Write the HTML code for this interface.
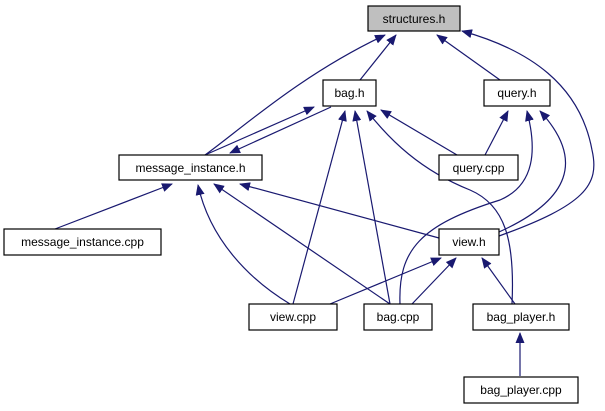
<!DOCTYPE html>
<html><head><meta charset="utf-8"><style>
html,body{margin:0;padding:0;background:#fff;width:605px;height:411px;overflow:hidden}
svg text{font-family:"Liberation Sans",sans-serif;font-size:12px;fill:#000}
</style></head><body>
<svg width="605" height="411" xmlns="http://www.w3.org/2000/svg">
<defs><marker id="a" markerWidth="11" markerHeight="9" refX="10" refY="4.5" orient="auto" markerUnits="userSpaceOnUse"><path d="M0,0 L11,4.5 L0,9 Z" fill="#191970"/></marker></defs>
<g fill="none" stroke="#191970" stroke-width="1.2" marker-end="url(#a)">
<path d="M360,80 L396,35"/>
<path d="M205,155 C240,130 300,75 385,35"/>
<path d="M500,80 L437,35"/>
<path d="M499,236 C585,205 600,185 592,150 C580,85 530,50 462,31"/>
<path d="M205,155 L314,107"/>
<path d="M331,107 L230,153"/>
<path d="M293,304 L345,111"/>
<path d="M390,304 L355,111"/>
<path d="M512,304 C515,240 505,205 470,190 C420,170 390,140 367,111"/>
<path d="M457,155 L381,110"/>
<path d="M485,155 L508,111"/>
<path d="M400,304 C398,250 420,225 500,200 C535,185 537,150 527,111"/>
<path d="M499,232 C570,200 585,160 540,111"/>
<path d="M55,229 L172,184"/>
<path d="M290,304 C250,280 210,240 198,185"/>
<path d="M390,304 L214,184"/>
<path d="M439,238 L240,184"/>
<path d="M330,304 L441,258"/>
<path d="M412,304 L456,258"/>
<path d="M515,304 L482,258"/>
<path d="M520,376 L520,333"/>
</g>
<g stroke="#000" stroke-width="1.2">
<rect x="368" y="6" width="92" height="25" fill="#bfbfbf"/>
<rect x="323" y="80" width="53" height="26" fill="#fff"/>
<rect x="484" y="80" width="66" height="26" fill="#fff"/>
<rect x="119" y="155" width="143" height="25" fill="#fff"/>
<rect x="439" y="155" width="79" height="25" fill="#fff"/>
<rect x="4" y="229" width="157" height="26" fill="#fff"/>
<rect x="439" y="229" width="60" height="26" fill="#fff"/>
<rect x="249" y="304" width="88" height="26" fill="#fff"/>
<rect x="364" y="304" width="68" height="26" fill="#fff"/>
<rect x="473" y="304" width="96" height="26" fill="#fff"/>
<rect x="464" y="377" width="114" height="26" fill="#fff"/>
</g>
<g text-anchor="middle">
<text x="414" y="23">structures.h</text>
<text x="349.5" y="97">bag.h</text>
<text x="517" y="97">query.h</text>
<text x="190.5" y="172">message_instance.h</text>
<text x="478.5" y="172">query.cpp</text>
<text x="82.5" y="246">message_instance.cpp</text>
<text x="469" y="246">view.h</text>
<text x="293" y="321">view.cpp</text>
<text x="398" y="321">bag.cpp</text>
<text x="521" y="321">bag_player.h</text>
<text x="521" y="394">bag_player.cpp</text>
</g>
</svg>
</body></html>
